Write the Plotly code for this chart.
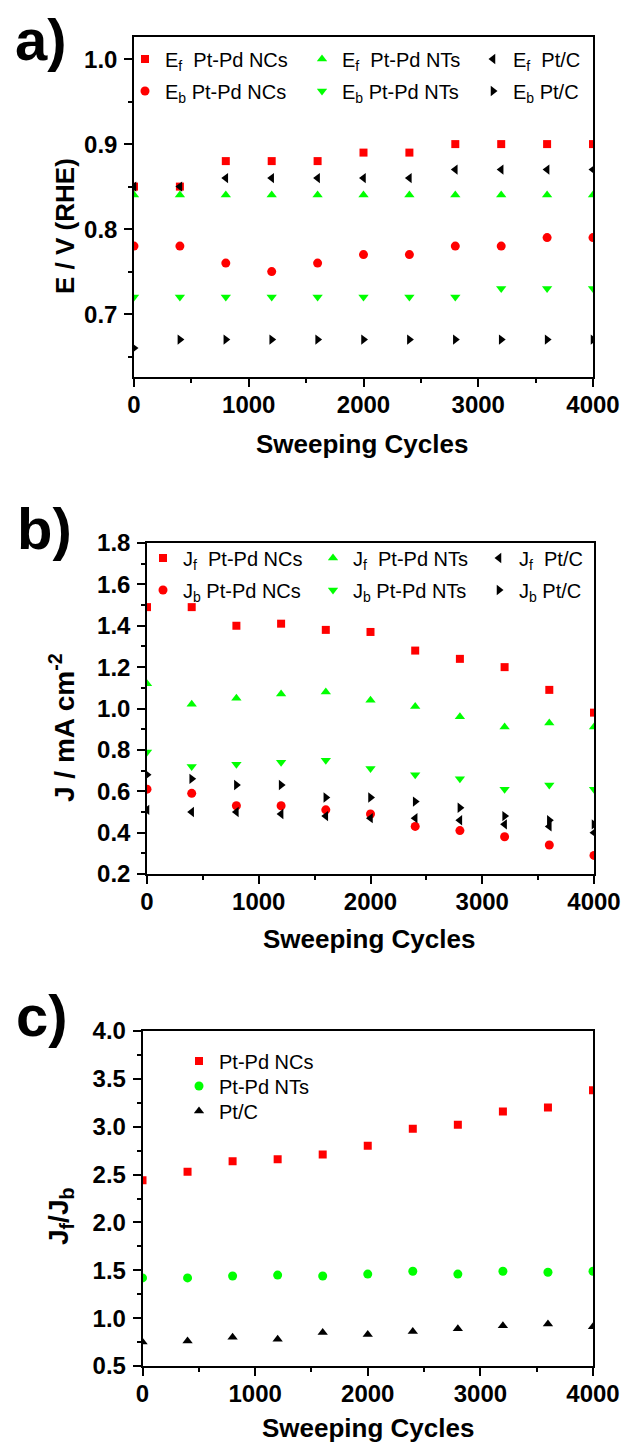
import plotly.graph_objects as go

# ---------------- data ----------------
cycles = [0, 400, 800, 1200, 1600, 2000, 2400, 2800, 3200, 3600, 4000]
x_ticks = [0, 1000, 2000, 3000, 4000]

# panel a: peak potentials (V vs RHE)
ef_ncs = [0.85, 0.85, 0.88, 0.88, 0.88, 0.89, 0.89, 0.90, 0.90, 0.90, 0.90]
eb_ncs = [0.78, 0.78, 0.76, 0.75, 0.76, 0.77, 0.77, 0.78, 0.78, 0.79, 0.79]
ef_nts = [0.84, 0.84, 0.84, 0.84, 0.84, 0.84, 0.84, 0.84, 0.84, 0.84, 0.84]
eb_nts = [0.72, 0.72, 0.72, 0.72, 0.72, 0.72, 0.72, 0.72, 0.73, 0.73, 0.73]
ef_ptc = [0.85, 0.85, 0.86, 0.86, 0.86, 0.86, 0.86, 0.87, 0.87, 0.87, 0.87]
eb_ptc = [0.66, 0.67, 0.67, 0.67, 0.67, 0.67, 0.67, 0.67, 0.67, 0.67, 0.67]
a_yticks = [0.7, 0.8, 0.9, 1.0]

# panel b: peak current densities (mA cm^-2)
jf_ncs = [1.49, 1.49, 1.40, 1.41, 1.38, 1.37, 1.28, 1.24, 1.20, 1.09, 0.98]
jb_ncs = [0.61, 0.59, 0.53, 0.53, 0.51, 0.49, 0.43, 0.41, 0.38, 0.34, 0.29]
jf_nts = [1.12, 1.02, 1.05, 1.07, 1.08, 1.04, 1.01, 0.96, 0.91, 0.93, 0.91]
jb_nts = [0.79, 0.72, 0.73, 0.74, 0.75, 0.71, 0.68, 0.66, 0.61, 0.63, 0.61]
jf_ptc = [0.51, 0.50, 0.50, 0.49, 0.48, 0.47, 0.47, 0.46, 0.44, 0.43, 0.40]
jb_ptc = [0.68, 0.66, 0.63, 0.63, 0.57, 0.57, 0.55, 0.52, 0.48, 0.46, 0.44]
b_yticks = [0.2, 0.4, 0.6, 0.8, 1.0, 1.2, 1.4, 1.6, 1.8]

# panel c: Jf/Jb ratio
r_ncs = [2.44, 2.53, 2.64, 2.66, 2.71, 2.80, 2.98, 3.02, 3.16, 3.20, 3.38]
r_nts = [1.42, 1.42, 1.44, 1.45, 1.44, 1.46, 1.49, 1.46, 1.49, 1.48, 1.49]
r_ptc = [0.75, 0.76, 0.80, 0.78, 0.85, 0.83, 0.86, 0.89, 0.92, 0.94, 0.91]
c_yticks = [0.5, 1.0, 1.5, 2.0, 2.5, 3.0, 3.5, 4.0]

# ---------------- styling ----------------
W, H = 624, 1445
RED, GREEN, BLACK = "#ff0000", "#00ff00", "#000000"
FONT = "Liberation Sans, Arial, sans-serif"
NB = "\u00a0"


def px(x):
    return x / W


def py(y):
    return 1 - y / H


fig = go.Figure()
legends = {}
leg_count = [0]

legfont = dict(family=FONT, size=20, color="black")


def add(xa, ya, yvals, name, symbol, color, sym_x, row_y, size=9):
    leg_count[0] += 1
    key = "legend" if leg_count[0] == 1 else "legend%d" % leg_count[0]
    legends[key] = dict(
        x=px(sym_x - 20), y=py(row_y), xanchor="left", yanchor="middle",
        orientation="v", font=legfont, bgcolor="rgba(0,0,0,0)", borderwidth=0,
        itemwidth=30,
    )
    fig.add_trace(go.Scatter(
        x=cycles, y=yvals, mode="markers", name=name,
        marker=dict(symbol=symbol, color=color, size=size, line=dict(width=0)),
        xaxis=xa, yaxis=ya, legend=key,
    ))


# panel a
add("x", "y", ef_ncs, "E<sub>f</sub>" + NB + NB + "Pt-Pd NCs", "square", RED, 145, 59, 8)
add("x", "y", eb_ncs, "E<sub>b</sub>" + NB + "Pt-Pd NCs", "circle", RED, 145, 91)
add("x", "y", ef_nts, "E<sub>f</sub>" + NB + NB + "Pt-Pd NTs", "triangle-up", GREEN, 322, 59)
add("x", "y", eb_nts, "E<sub>b</sub>" + NB + "Pt-Pd NTs", "triangle-down", GREEN, 322, 91)
add("x", "y", ef_ptc, "E<sub>f</sub>" + NB + NB + "Pt/C", "triangle-left", BLACK, 493, 59)
add("x", "y", eb_ptc, "E<sub>b</sub>" + NB + "Pt/C", "triangle-right", BLACK, 493, 91)

# panel b
add("x2", "y2", jf_ncs, "J<sub>f</sub>" + NB + NB + "Pt-Pd NCs", "square", RED, 163, 558, 8)
add("x2", "y2", jb_ncs, "J<sub>b</sub>" + NB + "Pt-Pd NCs", "circle", RED, 163, 590)
add("x2", "y2", jf_nts, "J<sub>f</sub>" + NB + NB + "Pt-Pd NTs", "triangle-up", GREEN, 333, 558)
add("x2", "y2", jb_nts, "J<sub>b</sub>" + NB + "Pt-Pd NTs", "triangle-down", GREEN, 333, 590)
add("x2", "y2", jf_ptc, "J<sub>f</sub>" + NB + NB + "Pt/C", "triangle-left", BLACK, 499, 558)
add("x2", "y2", jb_ptc, "J<sub>b</sub>" + NB + "Pt/C", "triangle-right", BLACK, 499, 590)

# panel c
add("x3", "y3", r_ncs, "Pt-Pd NCs", "square", RED, 199, 1061, 8)
add("x3", "y3", r_nts, "Pt-Pd NTs", "circle", GREEN, 199, 1086)
add("x3", "y3", r_ptc, "Pt/C", "triangle-up", BLACK, 199, 1111)

tickfont = dict(family=FONT, size=24, color="black", weight="bold")


def xaxis(left, right, anchor):
    return dict(
        domain=[px(left), px(right)], anchor=anchor, range=[0, 4000],
        tickvals=x_ticks, ticks="outside", ticklen=8, tickwidth=1.5, tickcolor="black",
        minor=dict(dtick=500, tick0=0, ticks="outside", ticklen=4, tickwidth=1.5, tickcolor="black"),
        showline=True, linecolor="black", linewidth=1.5, mirror=True,
        showgrid=False, zeroline=False, tickfont=tickfont, ticklabelstandoff=-3,
    )


def yaxis(top, bottom, anchor, rng, tvals, mdt):
    return dict(
        domain=[py(bottom), py(top)], anchor=anchor, range=rng,
        tickvals=tvals, tickformat=".1f", ticks="outside", ticklen=8, tickwidth=1.5, tickcolor="black",
        minor=dict(dtick=mdt, tick0=tvals[0], ticks="outside", ticklen=4, tickwidth=1.5, tickcolor="black"),
        showline=True, linecolor="black", linewidth=1.5, mirror=True,
        showgrid=False, zeroline=False, tickfont=tickfont, ticklabelstandoff=2,
    )


def ann(text, x, y, size, angle=0):
    return dict(
        text=text, x=px(x), y=py(y), xref="paper", yref="paper", showarrow=False,
        xanchor="center", yanchor="middle", textangle=angle,
        font=dict(family=FONT, size=size, color="black", weight="bold"),
    )


fig.update_layout(
    width=W, height=H, paper_bgcolor="white", plot_bgcolor="white",
    margin=dict(l=0, r=0, t=0, b=0, autoexpand=False),
    showlegend=True,
    xaxis=xaxis(134, 593, "y"),
    yaxis=yaxis(37, 377, "x", [0.626, 1.026], a_yticks, 0.05),
    xaxis2=xaxis(147, 594, "y2"),
    yaxis2=yaxis(543, 874, "x2", [0.2, 1.8], b_yticks, 0.1),
    xaxis3=xaxis(142.5, 593, "y3"),
    yaxis3=yaxis(1031, 1366, "x3", [0.5, 4.0], c_yticks, 0.25),
    annotations=[
        ann("a)", 41, 40, 58),
        ann("b)", 45, 528, 58),
        ann("c)", 42, 1015, 58),
        ann("E / V (RHE)", 65, 226, 26, -90),
        ann("J / mA cm<sup>-2</sup>", 62, 727, 28, -90),
        ann("J<sub>f</sub>/J<sub>b</sub>", 60, 1217, 28, -90),
        ann("Sweeping Cycles", 362, 444, 26),
        ann("Sweeping Cycles", 369, 939, 26),
        ann("Sweeping Cycles", 368, 1428, 26),
    ],
)
fig.update_layout(**legends)

fig.write_html(
    "out.html",
    config={"displayModeBar": False},
    post_script="document.body.style.margin='0px';document.body.style.overflow='hidden';",
)
